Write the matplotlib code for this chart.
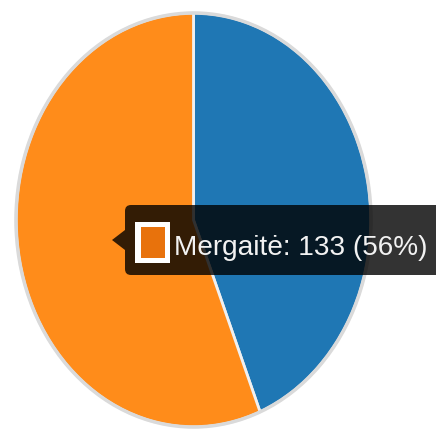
import matplotlib
matplotlib.use('Agg')
import matplotlib.pyplot as plt
from matplotlib.patches import Circle, Rectangle, FancyBboxPatch, PathPatch
from matplotlib.path import Path
from matplotlib import font_manager

labels = ['Berniukas', 'Mergaitė']
values = [104, 133]
colors = ['#1f77b4', '#ff8c1a']
hover_index = 1

W, H = 436, 429
fig = plt.figure(figsize=(W / 100, H / 100), dpi=100)
fig.patch.set_facecolor('white')

# pie is drawn as an ellipse (stretched vertically)
x0, x1 = 16.0, 371.0
y0, y1 = 13.0, 427.0
ax = fig.add_axes([x0 / W, 1 - y1 / H, (x1 - x0) / W, (y1 - y0) / H])
wedges, _ = ax.pie(values, colors=colors, startangle=90, counterclock=False, radius=1,
                   wedgeprops=dict(edgecolor='#f0f0f0', linewidth=2))
for w in wedges:
    w.set_clip_on(False)
ax.set_aspect('auto')
ax.set_xlim(-1, 1)
ax.set_ylim(-1, 1)
ring = Circle((0, 0), 1.0, fill=False, edgecolor='#dadada', linewidth=2.5, clip_on=False, zorder=5)
ax.add_patch(ring)
ax.axis('off')

# tooltip overlay in pixel coordinates
ov = fig.add_axes([0, 0, 1, 1])
ov.set_xlim(0, W)
ov.set_ylim(H, 0)
ov.axis('off')

box = FancyBboxPatch((125, 205), 340, 70, boxstyle='round,pad=0,rounding_size=6')
box_path = box.get_path()
caret = Path([(125, 230), (112, 240), (125, 250), (125, 230)],
             [Path.MOVETO, Path.LINETO, Path.LINETO, Path.CLOSEPOLY])
tip = Path.make_compound_path(box_path, caret)
ov.add_patch(PathPatch(tip, facecolor=(0, 0, 0, 0.8), edgecolor='none'))

ov.add_patch(Rectangle((135, 222), 35, 41, facecolor='white', edgecolor='none'))
ov.add_patch(Rectangle((140.5, 227), 24, 30.5, facecolor='#e8720c', edgecolor='none'))

names = {f.name for f in font_manager.fontManager.ttflist}
fam = 'Liberation Sans Narrow' if 'Liberation Sans Narrow' in names else 'Liberation Sans'
i = hover_index
pct = round(100 * values[i] / sum(values))
label = f"{labels[i]}: {values[i]} ({pct}%)"
fs = 24
t = ov.text(174, 255, label, color='#f2f2f2', va='baseline', ha='left', family=fam, fontsize=fs)
fig.canvas.draw()
bb = t.get_window_extent()
t.set_fontsize(fs * 254 / bb.width)

fig.savefig('out.png', dpi=100, facecolor='white')
